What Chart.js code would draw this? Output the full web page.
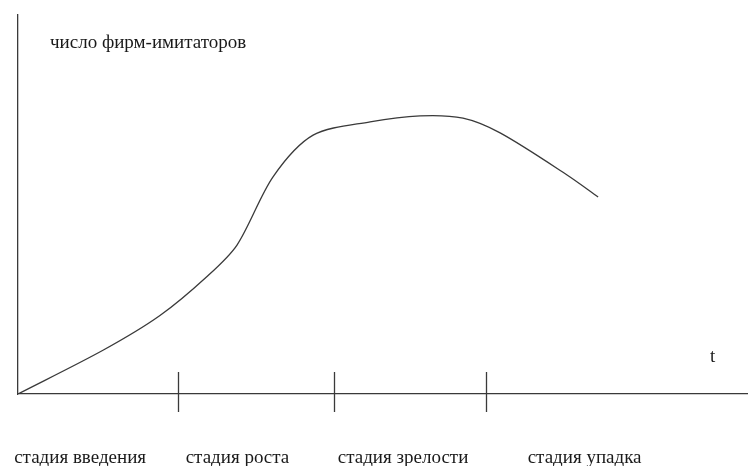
<!DOCTYPE html>
<html>
<head>
<meta charset="utf-8">
<script src="https://cdn.jsdelivr.net/npm/chart.js@4/dist/chart.umd.min.js"></script>
<style>
  html, body { margin: 0; padding: 0; background: #fff; }
  #wrap { width: 748px; height: 466px; }
</style>
</head>
<body>
<div id="wrap"><canvas id="lifeCycleChart"></canvas></div>
<script>
// curve (time, number of imitating firms)
var curveT = [0, 0.55, 0.914, 1.217, 1.410, 1.642, 1.900, 2.267, 2.589, 2.865, 3.104, 3.535, 3.735];
var curveN = [0, 1.16, 2.07, 3.10, 3.93, 5.73, 6.83, 7.18, 7.34, 7.28, 6.89, 5.78, 5.20];

// stage boundaries on the time axis and stage names
var stageBounds = [1.030, 2.035, 3.013];
var stageNames = ['стадия введения', 'стадия роста', 'стадия зрелости', 'стадия упадка'];
var stageNameAt = [0.40, 1.413, 2.479, 3.648];

var yTitle = 'число фирм-имитаторов';
var xTitle = 't';

var inkColor = '#3a3a3a';
var textColor = '#1a1a1a';
var textFont = '19px "Liberation Serif", "DejaVu Serif", serif';

var lifeCycleMarks = {
    id: 'lifeCycleMarks',
    afterDraw: function(chart) {
        var ctx = chart.ctx;
        var area = chart.chartArea;
        var xs = chart.scales.x;
        ctx.save();
        ctx.strokeStyle = inkColor;
        ctx.lineWidth = 1.3;
        stageBounds.forEach(function(b) {
            var px = Math.round(xs.getPixelForValue(b)) + 0.5;
            ctx.beginPath();
            ctx.moveTo(px, area.bottom - 22);
            ctx.lineTo(px, area.bottom + 18);
            ctx.stroke();
        });
        ctx.fillStyle = textColor;
        ctx.font = textFont;
        ctx.textBaseline = 'alphabetic';
        ctx.textAlign = 'left';
        ctx.fillText(yTitle, area.left + 32, area.top + 33);
        ctx.fillText(xTitle, area.right - 38, area.bottom - 32);
        ctx.textAlign = 'center';
        stageNames.forEach(function(name, i) {
            ctx.fillText(name, xs.getPixelForValue(stageNameAt[i]), area.bottom + 69);
        });
        ctx.restore();
    }
};

var ctx = document.getElementById('lifeCycleChart').getContext('2d');
var myChart = new Chart(ctx, {
    type: 'line',
    data: {
        datasets: [{
            data: curveT.map(function(t, i) { return { x: t, y: curveN[i] }; }),
            borderColor: inkColor,
            borderWidth: 1.3,
            pointRadius: 0,
            tension: 0.3,
            fill: false
        }]
    },
    options: {
        responsive: true,
        maintainAspectRatio: false,
        animation: false,
        layout: { padding: { top: 15, left: 0, right: 0, bottom: 0 } },
        plugins: {
            legend: { display: false },
            tooltip: { enabled: false }
        },
        scales: {
            x: {
                type: 'linear',
                min: 0,
                max: 4.7,
                grid: { display: false, drawTicks: false },
                border: { display: true, color: inkColor, width: 1.3 },
                ticks: { display: false },
                afterFit: function(scale) { scale.height = 72; }
            },
            y: {
                type: 'linear',
                min: 0,
                max: 10,
                grid: { display: false, drawTicks: false },
                border: { display: true, color: inkColor, width: 1.3 },
                ticks: { display: false },
                afterFit: function(scale) { scale.width = 18; }
            }
        }
    },
    plugins: [lifeCycleMarks]
});
</script>
</body>
</html>
